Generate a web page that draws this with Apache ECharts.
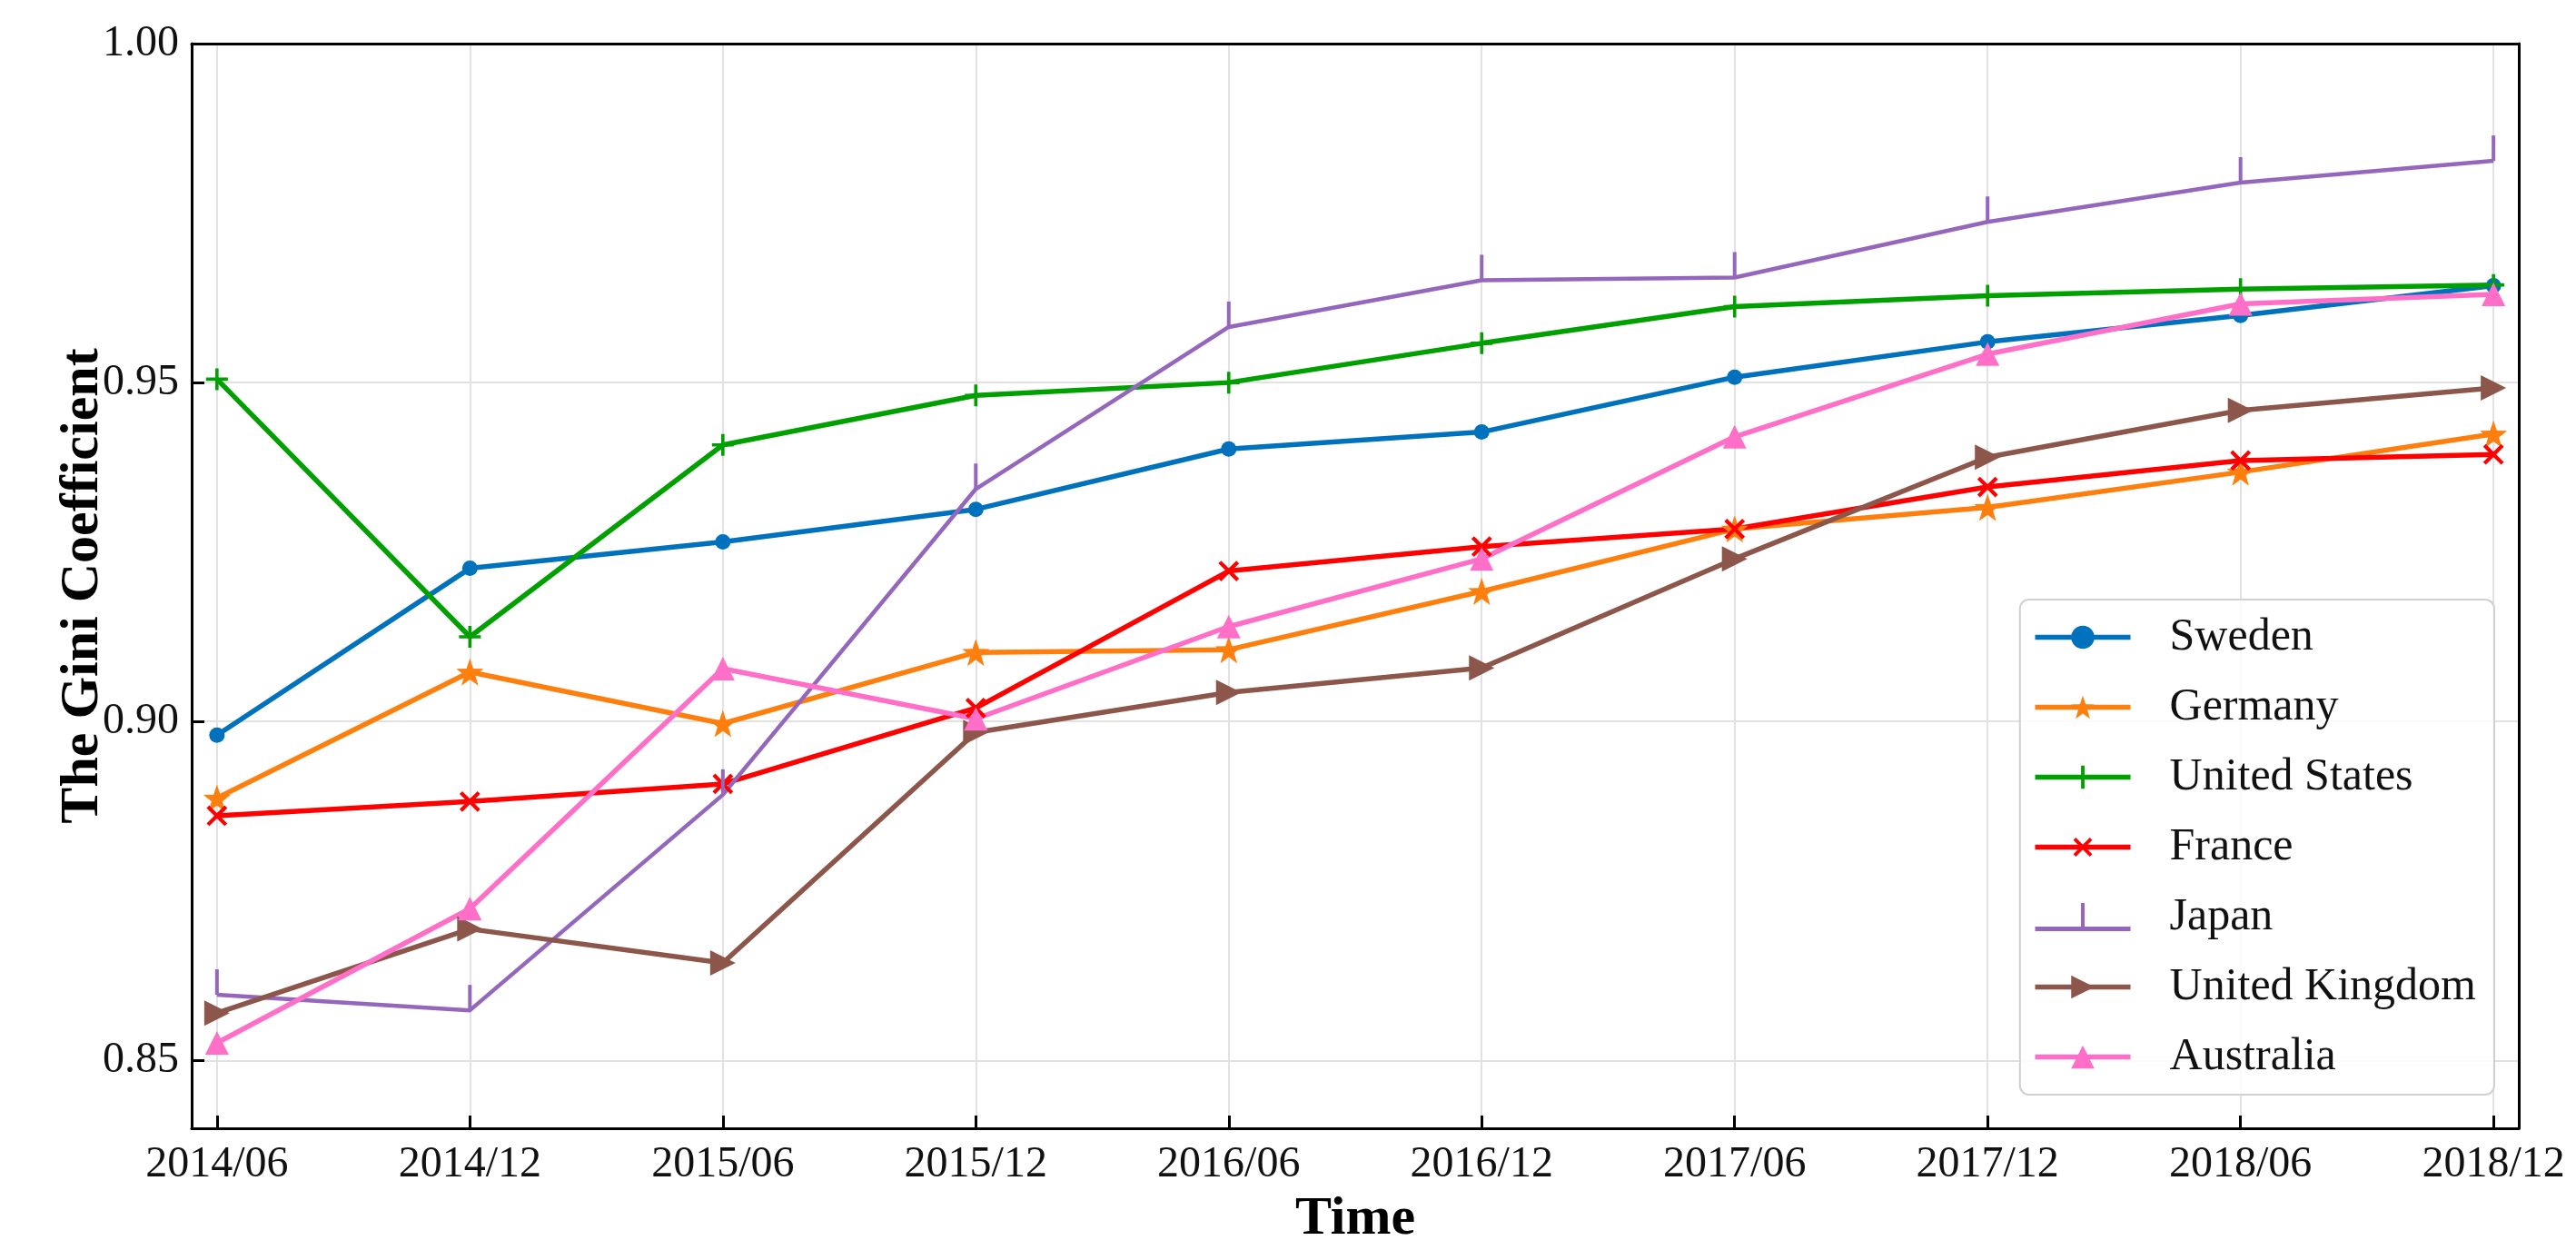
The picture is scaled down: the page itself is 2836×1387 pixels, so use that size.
<!DOCTYPE html>
<html>
<head>
<meta charset="utf-8">
<script src="https://cdn.jsdelivr.net/npm/echarts@6/dist/echarts.min.js"></script>
<style>
html,body{margin:0;padding:0;background:#fff;}
#chart{width:2836px;height:1387px;}
</style>
</head>
<body>
<div id="chart"></div>
<script>
var categories = ['2014/06','2014/12','2015/06','2015/12','2016/06','2016/12','2017/06','2017/12','2018/06','2018/12'];
var yTicks = [0.85, 0.90, 0.95, 1.00];
var sweden    = [0.8980, 0.9226, 0.9265, 0.9313, 0.9402, 0.9427, 0.9508, 0.9560, 0.9599, 0.9643];
var germany   = [0.8887, 0.9073, 0.8997, 0.9102, 0.9106, 0.9192, 0.9284, 0.9316, 0.9368, 0.9424];
var us        = [0.9505, 0.9125, 0.9408, 0.9481, 0.9500, 0.9558, 0.9612, 0.9628, 0.9638, 0.9644];
var france    = [0.8861, 0.8882, 0.8908, 0.9020, 0.9222, 0.9258, 0.9284, 0.9346, 0.9385, 0.9394];
var japan     = [0.8597, 0.8574, 0.8892, 0.9343, 0.9582, 0.9651, 0.9655, 0.9737, 0.9795, 0.9827];
var uk        = [0.8570, 0.8694, 0.8644, 0.8984, 0.9043, 0.9079, 0.9240, 0.9390, 0.9459, 0.9492];
var australia = [0.8526, 0.8724, 0.9078, 0.9004, 0.9140, 0.9240, 0.9420, 0.9542, 0.9616, 0.9630];

var FONT = 'Liberation Serif';
var STAR = 'path://M0,-10 L2.35,-3.24 L9.51,-3.09 L3.8,1.24 L5.88,8.09 L0,4 L-5.88,8.09 L-3.8,1.24 L-9.51,-3.09 L-2.35,-3.24 Z';
var PLUS = 'path://M-1.5,-10 L1.5,-10 L1.5,-1.5 L10,-1.5 L10,1.5 L1.5,1.5 L1.5,10 L-1.5,10 L-1.5,1.5 L-10,1.5 L-10,-1.5 L-1.5,-1.5 Z';
var TRI_R = 'path://M-8,-9 L10,0 L-8,9 Z';
var TICKUP_ICON = 'path://M0,26 L105,26 L105,31 L0,31 Z M50.5,0 L54.5,0 L54.5,26 L50.5,26 Z';

function pts(arr){ return arr.map(function(v,i){ return [i, v]; }); }

function mk(name, arr, color, symbol, size, extra){
  var s = {
    name: name, type: 'line', data: pts(arr),
    symbol: symbol, symbolSize: size,
    lineStyle: {color: color, width: 5.5},
    itemStyle: {color: color},
    emphasis: {disabled: true},
    z: 3
  };
  if (extra) for (var k in extra) s[k] = extra[k];
  return s;
}

var series = [
  mk('Sweden', sweden, '#0072BD', 'circle', 17),
  mk('Germany', germany, '#FF7F0E', STAR, 30),
  mk('United States', us, '#00A000', PLUS, 24),
  mk('France', france, '#FF0000', PLUS, 28, {symbolRotate: 45}),
  mk('Japan', japan, '#9467BD', 'rect', [4, 28], {symbolOffset: [0, '-50%'], lineStyle: {color: '#9467BD', width: 4.5}}),
  mk('United Kingdom', uk, '#8C564B', TRI_R, 28),
  mk('Australia', australia, '#FF6EC7', 'triangle', 26)
];

var legendData = series.map(function(s){
  return s.name === 'Japan' ? {name: 'Japan', icon: TICKUP_ICON} : {name: s.name};
});

var chart = echarts.init(document.getElementById('chart'));
chart.setOption({
  animation: false,
  backgroundColor: '#fff',
  grid: {left: 211, right: 63, top: 48, bottom: 145, show: false},
  xAxis: [{
    type: 'value', min: -0.1, max: 9.1,
    name: 'Time', nameLocation: 'middle', nameGap: 70,
    nameTextStyle: {fontFamily: FONT, fontSize: 60, fontWeight: 'bold', color: '#000'},
    axisLine: {onZero: false, lineStyle: {color: '#000', width: 3}},
    axisTick: {inside: true, length: 14, lineStyle: {color: '#000', width: 3}, customValues: [0,1,2,3,4,5,6,7,8,9]},
    axisLabel: {fontFamily: FONT, fontSize: 48, color: '#111', margin: 16, customValues: [0,1,2,3,4,5,6,7,8,9],
      formatter: function(v){ return categories[Math.round(v)] || ''; }},
    splitLine: {show: true, lineStyle: {color: '#e2e2e2', width: 2}}
  }, {
    type: 'value', min: -0.1, max: 9.1, position: 'top', z: 10,
    axisLine: {show: true, onZero: false, lineStyle: {color: '#000', width: 3}},
    axisTick: {show: false}, axisLabel: {show: false}, splitLine: {show: false}
  }],
  yAxis: [{
    type: 'value', min: 0.84, max: 1.00,
    name: 'The Gini Coefficient', nameLocation: 'middle', nameGap: 90, nameMoveOverlap: false,
    nameTextStyle: {fontFamily: FONT, fontSize: 60, fontWeight: 'bold', color: '#000'},
    axisLine: {show: true, onZero: false, lineStyle: {color: '#000', width: 3}},
    axisTick: {show: true, inside: true, length: 14, lineStyle: {color: '#000', width: 3}, customValues: yTicks},
    axisLabel: {fontFamily: FONT, fontSize: 48, color: '#111', margin: 14, customValues: yTicks,
      formatter: function(v){ return v.toFixed(2); }},
    splitLine: {show: true, lineStyle: {color: '#e2e2e2', width: 2}}
  }, {
    type: 'value', min: 0.84, max: 1.00, position: 'right', z: 10,
    axisLine: {show: true, onZero: false, lineStyle: {color: '#000', width: 3}},
    axisTick: {show: false}, axisLabel: {show: false}, splitLine: {show: false}
  }],
  legend: {
    orient: 'vertical', right: 90, top: 660,
    itemWidth: 105, itemHeight: 32, itemGap: 22,
    padding: [14, 20, 14, 14],
    backgroundColor: 'rgba(255,255,255,0.85)',
    borderColor: '#d0d0d0', borderWidth: 2, borderRadius: 10,
    lineStyle: {width: 5.5},
    textStyle: {fontFamily: FONT, fontSize: 50, color: '#111', lineHeight: 55, padding: [0, 0, 0, 38]},
    data: legendData
  },
  series: series
});
</script>
</body>
</html>
